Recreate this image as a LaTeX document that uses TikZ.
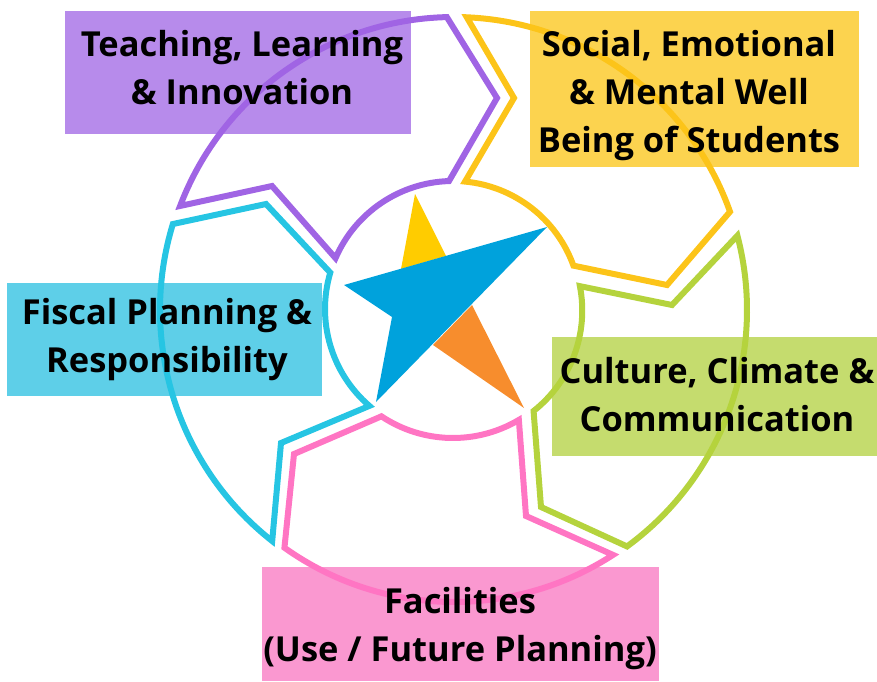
\documentclass[tikz,border=0pt]{standalone}
\usepackage{fontspec}
\setmainfont{Open Sans}
\usetikzlibrary{calc}
\definecolor{boxpurple}{HTML}{B78BEB}
\definecolor{boxyellow}{HTML}{FCD34F}
\definecolor{boxcyan}{HTML}{5ECFE8}
\definecolor{boxgreen}{HTML}{C5DC6E}
\definecolor{boxpink}{HTML}{FA98D0}
\definecolor{linepurple}{HTML}{A064E4}
\definecolor{lineyellow}{HTML}{FCC419}
\definecolor{linecyan}{HTML}{26C5E3}
\definecolor{linegreen}{HTML}{B5D33D}
\definecolor{linepink}{HTML}{FF75C3}
\definecolor{starblue}{HTML}{00A2DC}
\definecolor{staryellow}{HTML}{FFCC00}
\definecolor{starorange}{HTML}{F78D2D}
\begin{document}
\begin{tikzpicture}[x=0.75pt,y=-0.75pt]
\tikzstyle{every node}=[font=\fontsize{25.85}{36}\selectfont\bfseries,align=center,inner sep=0pt];
\tikzstyle{sector}=[line width=4.5pt,miter limit=10];
\useasboundingbox (0,0) rectangle (877,681);
\coordinate (co) at (454,310);
\coordinate (ci) at (453,309);
\fill[boxpurple] (65,11) rectangle (411,134);
\fill[boxyellow] (530,11) rectangle (859,167);
\fill[boxcyan] (7,283) rectangle (322,396);
\fill[boxgreen] (552,337) rectangle (877,456);
\fill[boxpink] (262,567) rectangle (659,681);
\draw[sector,linepurple] ([shift={(co)}]200.8:293) arc[start angle=200.8,end angle=268.6,radius=293]
  -- (497,98) -- ([shift={(ci)}]268.2:128) arc[start angle=268.2,end angle=203.4,radius=128]
  -- (272,186) -- cycle;
\draw[sector,lineyellow] ([shift={(co)}]272.5:293) arc[start angle=272.5,end angle=340.4,radius=293]
  -- (667,285) -- ([shift={(ci)}]340.2:128) arc[start angle=340.2,end angle=275.4,radius=128]
  -- (514,98) -- cycle;
\draw[sector,linegreen] ([shift={(co)}]345.3:293) arc[start angle=345.3,end angle=413.8,radius=293]
  -- (541,507) -- ([shift={(ci)}]51.7:130) arc[start angle=51.7,end angle=-11,radius=128]
  -- (672,305) -- cycle;
\draw[sector,linepink] ([shift={(co)}]57:292) arc[start angle=57,end angle=125.5,radius=292]
  -- (294,454) -- ([shift={(ci)}]123.7:129) arc[start angle=123.7,end angle=59.3,radius=129]
  -- (526,516) -- cycle;
\draw[sector,linecyan] ([shift={(co)}]128.2:294) arc[start angle=128.2,end angle=197,radius=294]
  -- (266,204) -- ([shift={(ci)}]196.5:128) arc[start angle=196.5,end angle=130.8,radius=128]
  -- (281,443) -- cycle;
\fill[staryellow] (415,194) -- (401,269) -- (446,256) -- cycle;
\fill[starorange] (472,305) -- (524,408) -- (433,345) -- cycle;
\fill[starblue] (547,227) -- (344,285) -- (392,317) -- (376,402) -- cycle;
\node (v0) at (242,68) {Teaching, Learning\\\& Innovation};
\node (v1) at (689,95.5) {Social, Emotional\\\& Mental Well\\Being of Students};
\node (v2) at (167,339.5) {Fiscal Planning \&\\Responsibility};
\node (v3) at (717,394.5) {Culture, Climate \&\\Communication};
\node (v4) at (460,628.5) {Facilities\\(Use / Future Planning)};
\end{tikzpicture}
\end{document}
